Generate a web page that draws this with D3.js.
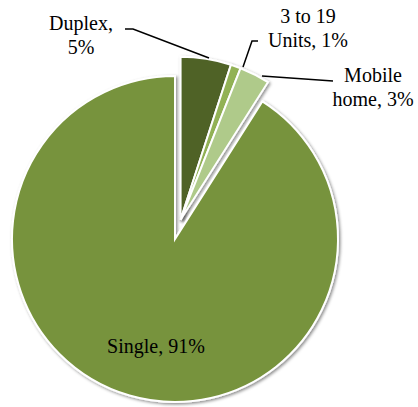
<!DOCTYPE html>
<html>
<head>
<meta charset="utf-8">
<script src="https://cdn.jsdelivr.net/npm/d3@7"></script>
<style>
  html, body { margin: 0; padding: 0; background: #fff; }
  svg { display: block; }
  text { font-family: "Liberation Serif", "DejaVu Serif", serif; fill: #000; }
</style>
</head>
<body>
<svg id="chart" width="418" height="407"></svg>
<script>
// Housing types, share of units (%)
const categories = ["Duplex", "3 to 19 Units", "Mobile home", "Single"];
const values = [5, 1, 3, 91];
const colors = ["#4F6228", "#92B255", "#AFCA8A", "#77933C"];
// slices pulled out from the centre
const exploded = [true, true, true, false];
// label lines as drawn
const labelLines = [["Duplex,", "5%"], ["3 to 19", "Units, 1%"], ["Mobile", "home, 3%"], ["Single, 91%"]];

const svg = d3.select("#chart");
const cx = 175, cy = 239, r = 163;

const defs = svg.append("defs");
const f = defs.append("filter").attr("id", "shadow")
  .attr("x", "-20%").attr("y", "-20%").attr("width", "140%").attr("height", "140%");
f.append("feDropShadow").attr("dx", 1.5).attr("dy", 1.5).attr("stdDeviation", 1.6)
  .attr("flood-color", "#000").attr("flood-opacity", 0.45);

const pie = d3.pie().sort(null).value(d => d.v).startAngle(0).endAngle(2 * Math.PI);
const arcs = pie(categories.map((c, i) => ({ c, v: values[i], i })));
const arc = d3.arc().innerRadius(0).outerRadius(r);

// the pulled-out group moves along the mid angle of all exploded slices
const expStart = d3.min(arcs.filter(a => exploded[a.data.i]), a => a.startAngle);
const expEnd = d3.max(arcs.filter(a => exploded[a.data.i]), a => a.endAngle);
const expMid = (expStart + expEnd) / 2;
const expDist = 20;
const ox = Math.sin(expMid) * expDist, oy = -Math.cos(expMid) * expDist;

const g = svg.append("g").attr("transform", `translate(${cx},${cy})`);
g.selectAll("path.slice")
  .data(arcs)
  .join("path")
  .attr("class", "slice")
  .attr("d", arc)
  .attr("transform", d => exploded[d.data.i] ? `translate(${ox},${oy})` : null)
  .attr("fill", d => colors[d.data.i])
  .attr("stroke", "#fff")
  .attr("stroke-width", 2)
  .attr("stroke-linejoin", "miter")
  .attr("filter", "url(#shadow)");

// leader lines
const leaders = [
  [[125, 29], [133, 29], [209, 58]],
  [[258, 41], [252, 41], [243, 67]],
  [[333, 81], [262, 76]]
];
svg.selectAll("path.leader")
  .data(leaders)
  .join("path")
  .attr("class", "leader")
  .attr("d", d3.line())
  .attr("fill", "none")
  .attr("stroke", "#000")
  .attr("stroke-width", 1.5);

// labels
const labelPos = [[81, 30], [308, 23], [373, 82], [156, 353]];
const lineH = 24;
labelLines.forEach((lines, i) => {
  const t = svg.append("text")
    .attr("x", labelPos[i][0]).attr("y", labelPos[i][1])
    .attr("text-anchor", "middle")
    .attr("font-size", 20);
  lines.forEach((s, k) => {
    t.append("tspan").attr("x", labelPos[i][0]).attr("dy", k === 0 ? 0 : lineH).text(s);
  });
});
</script>
</body>
</html>
